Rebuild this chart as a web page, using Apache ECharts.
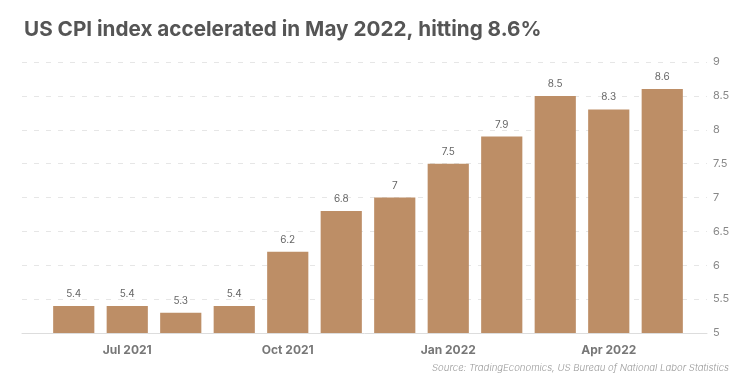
<!DOCTYPE html>
<html><head><meta charset="utf-8">
<script src="https://cdn.jsdelivr.net/npm/echarts@6/dist/echarts.min.js"></script>
<style>html,body{margin:0;padding:0;background:#fff}#c{width:750px;height:388px}</style>
</head><body><div id="c"></div>
<script>
const months = ['Jun 2021','Jul 2021','Aug 2021','Sep 2021','Oct 2021','Nov 2021','Dec 2021','Jan 2022','Feb 2022','Mar 2022','Apr 2022','May 2022'];
const cpi = [5.4, 5.4, 5.3, 5.4, 6.2, 6.8, 7, 7.5, 7.9, 8.5, 8.3, 8.6];
const shownTicks = ['Jul 2021','Oct 2021','Jan 2022','Apr 2022'];
const yMin = 5, yMax = 9, yStep = 0.5;
const titleText = 'US CPI index accelerated in May 2022, hitting 8.6%';
const sourceText = 'Source: TradingEconomics, US Bureau of National Labor Statistics';

const chart = echarts.init(document.getElementById('c'));
chart.setOption({
  animation: false,
  backgroundColor: '#fff',
  title: [{
    text: titleText, left: 19, top: 14,
    textStyle: {fontFamily: 'Inter', fontWeight: 'bold', fontSize: 20.7, color: '#555'}
  }, {
    text: sourceText, right: 16, top: 358,
    textStyle: {fontFamily: 'Inter', fontStyle: 'italic', fontWeight: 300, fontSize: 9.6, color: '#999'}
  }],
  grid: [
    {left: 22, right: 43, top: 62, bottom: 55},
    {left: 47, right: 61, top: 62, bottom: 55}
  ],
  xAxis: [{
    gridIndex: 0, type: 'category', data: months,
    axisLine: {show: true, lineStyle: {color: '#ddd', width: 1}},
    axisTick: {show: false}, axisLabel: {show: false}, splitLine: {show: false}
  }, {
    gridIndex: 1, type: 'category', data: months,
    axisLine: {show: false}, axisTick: {show: false},
    axisLabel: {
      interval: 0, margin: 11,
      formatter: v => shownTicks.includes(v) ? v : '',
      fontFamily: 'Inter', fontWeight: 'bold', fontSize: 12, color: '#777'
    }
  }],
  yAxis: [{
    gridIndex: 0, type: 'value', position: 'right', min: yMin, max: yMax, interval: yStep,
    axisLine: {show: false}, axisTick: {show: false},
    axisLabel: {margin: 6, fontFamily: 'Inter', fontSize: 11, color: '#888'},
    splitLine: {show: true, lineStyle: {color: '#e6e6e6', type: [5, 7], width: 1}}
  }, {
    gridIndex: 1, type: 'value', min: yMin, max: yMax, interval: yStep,
    show: false
  }],
  series: [{
    type: 'bar', xAxisIndex: 1, yAxisIndex: 1, data: cpi,
    barCategoryGap: '23%',
    itemStyle: {color: '#BD8E66'},
    label: {show: true, position: 'top', distance: 7, fontFamily: 'Inter', fontSize: 10, color: '#666'}
  }]
});
</script></body></html>
